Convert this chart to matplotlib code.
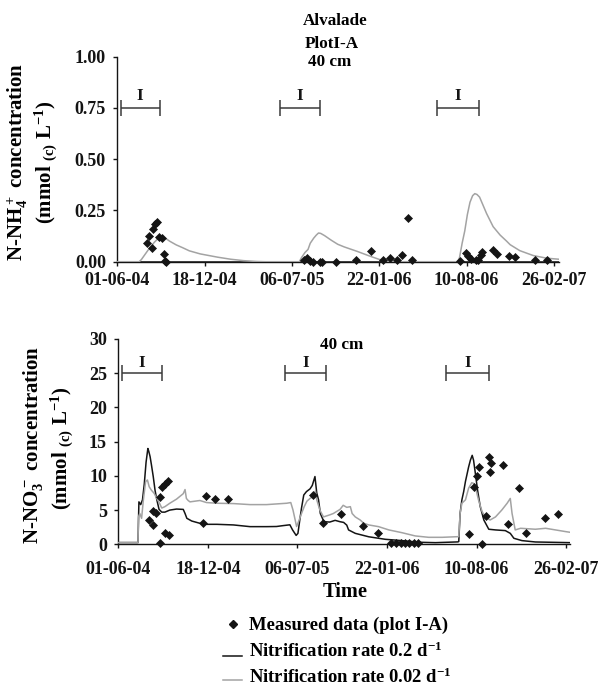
import numpy as np
import matplotlib
matplotlib.use("Agg")
import matplotlib.pyplot as plt
from matplotlib.lines import Line2D

plt.rcParams.update({
    "font.family": "Liberation Serif",
    "font.weight": "bold",
    "mathtext.default": "regular",
})

# ---- x axis: days since 01-06-04 ----
tick_days = [0, 200, 400, 600, 800, 1000]
tick_labels = ["01-06-04", "18-12-04", "06-07-05", "22-01-06", "10-08-06", "26-02-07"]

# irrigation periods (I)
irrig_start = [8, 372, 732]
irrig_end = [97, 464, 828]

# ---- N-NH4+ at 40 cm ----
nh4_meas_days = [67, 73, 79, 82, 86, 90, 96, 102, 108, 110, 112,
                 428, 435, 441, 449, 464, 470, 501, 547, 581, 608, 625, 640, 653, 667, 676,
                 785, 798, 804, 810, 822, 827, 833, 836, 861, 870, 898, 912, 957, 985]
nh4_meas = [0.09, 0.125, 0.065, 0.16, 0.185, 0.195, 0.12, 0.115, 0.036, 0.005, 0.0,
            0.01, 0.018, 0.003, 0.0, 0.0, 0.0, 0.0, 0.008, 0.05, 0.008, 0.018, 0.008, 0.031, 0.215, 0.008,
            0.005, 0.041, 0.028, 0.015, 0.008, 0.008, 0.033, 0.049, 0.057, 0.036, 0.028, 0.025, 0.01, 0.01]

nh4_fast_days = [0, 1012]
nh4_fast = [0.0, 0.0]

nh4_slow_days = [0, 50, 55, 65, 75, 85, 92, 98, 102, 108, 120, 135, 150, 165, 190, 210, 230, 260, 290, 320, 340,
                 417, 422, 430, 437, 442, 450, 456, 461, 466, 475, 490, 505, 520, 550, 575, 595, 610, 625,
                 780, 784, 790, 796, 802, 808, 814, 819, 824, 830, 838, 846, 861, 877, 892, 900, 922, 940, 953, 984, 1012]
nh4_slow = [0, 0, 0.01, 0.04, 0.07, 0.095, 0.11, 0.123, 0.127, 0.118, 0.1, 0.082, 0.068, 0.053, 0.038, 0.03, 0.022, 0.012, 0.005, 0.001, 0,
            0, 0.02, 0.045, 0.06, 0.09, 0.115, 0.13, 0.14, 0.138, 0.127, 0.105, 0.085, 0.072, 0.05, 0.03, 0.015, 0.004, 0,
            0, 0.02, 0.09, 0.15, 0.23, 0.29, 0.322, 0.332, 0.328, 0.315, 0.275, 0.235, 0.171, 0.13, 0.1, 0.083, 0.054, 0.04, 0.03, 0.017, 0.012]

# ---- N-NO3- at 40 cm ----
no3_meas_days = [69, 77, 78, 85, 92, 93, 97, 104, 104, 111, 114, 189, 196, 216, 244,
                 434, 457, 498, 546, 580, 608, 620, 631, 640, 649, 659, 670,
                 782, 795, 801, 805, 812, 820, 827, 830, 833, 858, 869, 895, 910, 953, 982]
no3_meas = [3.55, 4.8, 2.83, 4.6, 0.25, 6.9, 8.4, 8.8, 1.6, 9.2, 1.35, 3.07, 7.0, 6.6, 6.62,
            7.2, 3.16, 4.5, 2.68, 1.6, 0.2, 0.2, 0.2, 0.2, 0.2, 0.2, 0.2,
            1.48, 8.4, 9.95, 11.3, 0.1, 4.13, 12.8, 10.6, 11.85, 11.55, 2.9, 8.17, 1.7, 3.9, 4.45]

no3_fast_days = [0, 44, 46, 50, 54, 58, 62, 66, 68, 71, 74, 78, 82, 86, 91, 97, 104, 115, 130, 145, 149, 153, 164,
                 182, 197, 220, 257, 294, 331, 353, 368, 383, 389, 397, 401, 405, 409, 414, 420, 428, 433, 439,
                 443, 447, 451, 455, 459, 472, 484, 495, 503, 510, 514, 529, 559, 596, 633, 670, 708, 758, 760,
                 763, 767, 771, 775, 782, 786, 790, 793, 797, 802, 808, 816, 827, 842, 864, 875, 883, 901, 931, 1009]
no3_fast = [0.25, 0.25, 6.2, 5.8, 6.5, 8.8, 12.0, 14.0, 13.6, 12.8, 11.6, 9.9, 7.9, 6.5, 5.1, 4.7, 4.7, 5.0, 5.15, 5.1, 4.5, 3.8, 3.4,
            3.07, 2.92, 2.92, 2.83, 2.58, 2.58, 2.6, 2.73, 2.85, 2.1, 1.3, 1.6, 3.5, 5.3, 7.2, 7.7, 8.1, 8.6, 9.9,
            7.5, 6.5, 4.5, 3.9, 3.3, 3.25, 3.5, 3.3, 3.2, 2.8, 2.1, 1.6, 1.1, 0.73, 0.54, 0.3, 0.24, 0.35, 0.4,
            4.5, 6.5, 7.7, 9.2, 11.3, 12.3, 13.0, 12.3, 10.4, 7.9, 5.5, 3.55, 2.2, 2.1, 2.0, 1.6, 0.88, 0.54, 0.34, 0.24]

no3_slow_days = [0, 44, 45, 48, 52, 56, 61, 65, 69, 74, 80, 86, 92, 97, 104, 115, 130, 145, 149, 152, 156, 160,
                 182, 197, 220, 257, 294, 331, 376, 385, 390, 398, 404, 409, 415, 421, 428, 435, 440, 443, 450,
                 458, 472, 480, 495, 502, 510, 518, 522, 529, 540, 548, 559, 581, 604, 633, 663, 693, 723, 760,
                 763, 767, 775, 782, 789, 793, 797, 804, 812, 819, 830, 842, 856, 868, 875, 879, 886, 898, 931,
                 954, 976, 999, 1009]
no3_slow = [0.25, 0.25, 4.0, 4.5, 3.8, 6.5, 9.15, 9.4, 8.4, 7.9, 7.45, 6.7, 6.0, 5.3, 5.5, 6.0, 6.6, 7.4, 8.0, 6.7, 6.4, 6.2,
            6.4, 6.1, 6.0, 5.95, 5.8, 5.8, 6.0, 6.1, 5.0, 2.6, 3.6, 4.5, 5.5, 6.3, 6.7, 7.0, 7.8, 6.5, 5.0,
            4.0, 4.3, 4.5, 5.1, 5.7, 5.4, 5.5, 4.5, 4.0, 3.55, 3.07, 2.83, 2.58, 2.1, 1.7, 1.22, 1.02, 1.02, 1.12,
            4.5, 6.0, 6.5, 8.2, 9.0, 8.9, 8.4, 6.5, 4.8, 4.0, 3.55, 4.0, 5.0, 6.0, 6.7, 4.5, 2.1, 2.34, 2.2,
            2.34, 2.1, 1.85, 1.75]

W, H = 604, 686
BLACK = "#141414"
GREY = "#a3a3a3"
BRACKET = "#3a3a3a"


def fx(px):
    return px / W


def fy(py):
    return 1 - py / H


fig = plt.figure(figsize=(W / 100, H / 100), dpi=100)
ax1 = fig.add_axes([fx(117.3), fy(261.7), 442 / W, 205 / H])
ax2 = fig.add_axes([fx(118.3), fy(544.3), 452 / W, 205.3 / H])


def style(ax, xmax, ymax, yticks, yfmt, xpad):
    for s in ("top", "right"):
        ax.spines[s].set_visible(False)
    for s in ("left", "bottom"):
        ax.spines[s].set_linewidth(1.0)
        ax.spines[s].set_color(BLACK)
    ax.set_xlim(0, xmax)
    ax.set_ylim(0, ymax)
    ax.set_xticks(tick_days)
    ax.set_xticklabels(tick_labels)
    ax.set_yticks(yticks)
    ax.set_yticklabels([yfmt.format(v) for v in yticks])
    ax.tick_params(axis="both", direction="out", length=3.2, width=1.0,
                   labelsize=13, colors=BLACK)
    ax.tick_params(axis="y", pad=5)
    ax.tick_params(axis="x", pad=xpad)
    ax.patch.set_visible(False)


def irrigation(ax, y, ylabel_y, cap):
    starts = np.array(irrig_start, dtype=float)
    ends = np.array(irrig_end, dtype=float)
    mids = (starts + ends) / 2
    half = (ends - starts) / 2
    ax.errorbar(mids, np.full(len(mids), y), xerr=half, fmt="none",
                ecolor=BRACKET, elinewidth=1.1, capsize=cap, capthick=1.1, zorder=3)
    for m in mids:
        ax.text(m, ylabel_y, "I", ha="center", va="center", fontsize=12.5, color=BLACK)


# top panel: ammonium
style(ax1, 1012.6, 1.0, [0, 0.25, 0.5, 0.75, 1.0], "{:.2f}", 4.5)
ax1.plot(nh4_fast_days, nh4_fast, color=BLACK, lw=1.1, zorder=3)
ax1.plot(nh4_slow_days, nh4_slow, color=GREY, lw=1.1, zorder=3.2)
ax1.plot(nh4_meas_days, nh4_meas, ls="none", marker="D", ms=4.5, color=BLACK,
         mec=BLACK, mew=0.5, zorder=4, clip_on=False)
irrigation(ax1, 0.75, 0.81, 6)

# bottom panel: nitrate
style(ax2, 1009, 30, [0, 5, 10, 15, 20, 25, 30], "{:d}", 9)
ax2.plot(no3_fast_days, no3_fast, color=BLACK, lw=1.1, zorder=3)
ax2.plot(no3_slow_days, no3_slow, color=GREY, lw=1.1, zorder=3.2)
ax2.plot(no3_meas_days, no3_meas, ls="none", marker="D", ms=4.5, color=BLACK,
         mec=BLACK, mew=0.5, zorder=4, clip_on=False)
irrigation(ax2, 25, 26.5, 6)

# titles
fig.text(fx(335), fy(20.7), "Alvalade", ha="center", va="center", fontsize=12.3)
fig.text(fx(331.7), fy(44.3), "PlotI-A", ha="center", va="center", fontsize=12.3)
fig.text(fx(330), fy(61.7), "40 cm", ha="center", va="center", fontsize=12.3)
fig.text(fx(342), fy(345), "40 cm", ha="center", va="center", fontsize=12.3)

# y labels
fig.text(fx(18), fy(162), "N-NH$_4^+$ concentration", rotation=90,
         ha="center", va="center", fontsize=15)
fig.text(fx(46), fy(162), "(mmol $_{(c)}$ L$^{-1}$)", rotation=90,
         ha="center", va="center", fontsize=15)
fig.text(fx(33), fy(445), "N-NO$_3^-$ concentration", rotation=90,
         ha="center", va="center", fontsize=15)
fig.text(fx(62), fy(448), "(mmol $_{(c)}$ L$^{-1}$)", rotation=90,
         ha="center", va="center", fontsize=15)

# x label
fig.text(fx(345.3), fy(592), "Time", ha="center", va="center", fontsize=14.7)

# legend
leg_x_text = fx(249.3)
fig.add_artist(Line2D([fx(233.3)], [fy(624)], marker="D", ms=3.8, color=BLACK,
                      ls="none", transform=fig.transFigure))
fig.text(leg_x_text, fy(625), "Measured data (plot I-A)", ha="left", va="center", fontsize=13.4)
fig.add_artist(Line2D([fx(222.7), fx(241.7)], [fy(656), fy(656)], color=BLACK, lw=1.1,
                      transform=fig.transFigure))
fig.text(leg_x_text, fy(651), "Nitrification rate 0.2 d$^{-1}$", ha="left", va="center", fontsize=13.4)
fig.add_artist(Line2D([fx(222.7), fx(241.7)], [fy(680), fy(680)], color=GREY, lw=1.1,
                      transform=fig.transFigure))
fig.text(leg_x_text, fy(677), "Nitrification rate 0.02 d$^{-1}$", ha="left", va="center", fontsize=13.4)

fig.savefig("out.png", dpi=100)
